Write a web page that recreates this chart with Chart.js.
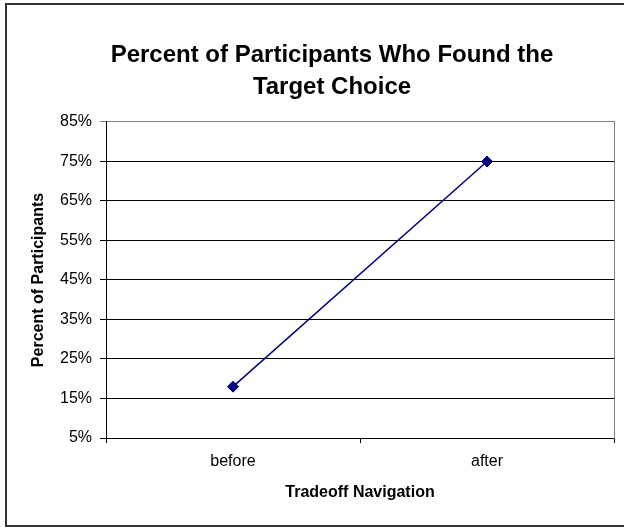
<!DOCTYPE html>
<html>
<head>
<meta charset="utf-8">
<script src="https://cdn.jsdelivr.net/npm/chart.js@4/dist/chart.umd.min.js"></script>
<style>
  html, body { margin: 0; padding: 0; background: #fff; overflow: hidden; width: 624px; height: 529px; }
  #frame { position: absolute; left: 5px; top: 3px; width: 700px; height: 520px; border: 2px solid #333; border-right: none; }
  #myChart { position: absolute; left: 0; top: 0; }
</style>
</head>
<body>
<div id="frame"></div>
<canvas id="myChart" width="664" height="529"></canvas>

<script>
  // values
  const categories = ['before', 'after']
  const percentFound = [18, 75]
  const yMin = 5
  const yMax = 85
  const yStep = 10

  Chart.defaults.font.family = '"Liberation Sans", Arial, sans-serif'
  Chart.defaults.color = '#000'

  var ctx = document.getElementById('myChart')
  var myChart = new Chart(ctx, {
    type: 'line',
    data: {
      labels: categories,
      datasets: [{
        data: percentFound,
        borderColor: '#000080',
        backgroundColor: '#000080',
        borderWidth: 1.5,
        pointStyle: 'rectRot',
        pointRadius: 5.5,
        pointBorderWidth: 1,
        tension: 0,
        fill: false
      }]
    },
    options: {
      responsive: false,
      animation: false,
      layout: { padding: 0 },
      plugins: {
        legend: { display: false },
        tooltip: { enabled: false },
        title: {
          display: true,
          text: ['Percent of Participants Who Found the', 'Target Choice'],
          font: { size: 24, weight: 'bold', lineHeight: 1.333 },
          padding: { top: 39, bottom: 19 }
        }
      },
      scales: {
        x: {
          offset: true,
          grid: { display: true, drawOnChartArea: false, drawTicks: true, tickLength: 5, color: '#000', offset: true },
          border: { display: true, color: '#000', width: 1 },
          ticks: { font: { size: 16 }, padding: 9 },
          title: { display: true, text: 'Tradeoff Navigation', font: { size: 16, weight: 'bold' }, padding: { top: 0, bottom: 27 } },
          afterFit: function (s) { s.height = 91 }
        },
        y: {
          min: yMin,
          max: yMax,
          ticks: {
            stepSize: yStep,
            font: { size: 16 },
            padding: 8,
            callback: v => v + '%'
          },
          grid: {
            tickLength: 6,
            lineWidth: 1,
            color: c => c.index === c.scale.ticks.length - 1 ? '#808080' : '#000'
          },
          border: { display: true, color: '#000', width: 1 },
          title: { display: true, text: 'Percent of Participants', font: { size: 16, weight: 'bold' }, padding: { top: 29, bottom: 0 } },
          afterFit: function (s) { s.width = 106 }
        },
        y2: {
          position: 'right',
          display: true,
          grid: { display: false },
          ticks: { display: false },
          border: { display: true, color: '#808080', width: 1 },
          afterFit: function (s) { s.width = 50 }
        }
      }
    }
  })
</script>
</body>
</html>
